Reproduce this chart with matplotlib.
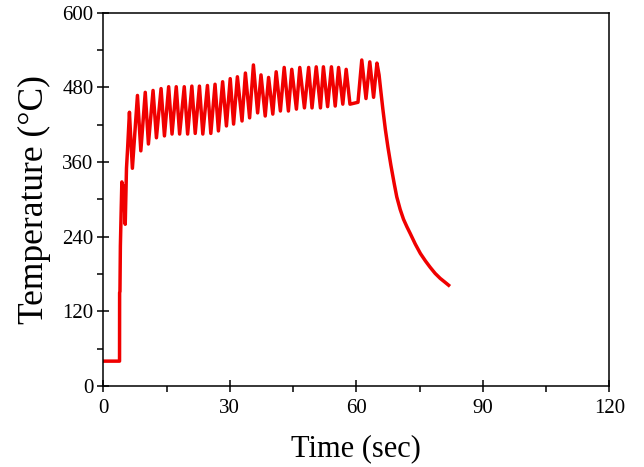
import matplotlib
matplotlib.use("Agg")
import matplotlib.pyplot as plt
from matplotlib.ticker import MultipleLocator

# temperature trace (time in s, temperature in degC)
time_s = [0.0, 3.85, 3.87, 3.95, 4.05, 4.25, 4.4, 4.6, 4.8, 5.2, 5.5, 5.75,
          6.2, 6.5, 6.9,
          8.1, 8.9, 9.95, 10.7, 11.8, 12.6, 13.7, 14.5, 15.5, 16.3, 17.3, 18.1,
          19.2, 20.0, 21.0, 21.8, 22.8, 23.6, 24.7, 25.5, 26.5, 27.3, 28.3, 29.2,
          30.1, 30.9, 31.8, 32.9, 33.7, 34.7, 35.6, 36.6, 37.4, 38.4, 39.2, 40.2,
          41.0, 42.0, 42.9, 43.9, 44.7, 45.8, 46.6, 47.7, 48.7, 49.5, 50.5, 51.5,
          52.2, 53.2, 54.1, 55.0, 55.8, 56.8, 57.6,
          58.5, 60.4, 61.3, 62.3, 63.2, 64.1, 64.9, 65.4,
          65.8, 66.3, 66.9, 67.5, 68.2, 69.0, 69.6, 70.4, 71.2, 72.0, 72.8,
          74.0, 75.2, 76.4, 77.5, 78.7, 79.9, 81.0, 81.9]
temp_c = [40, 40, 150, 152, 225, 285, 328, 295, 322, 260, 350, 380,
          440, 400, 350,
          467, 378, 472, 389, 475, 399, 478, 402, 481, 405, 481, 405,
          481, 405, 482, 406, 482, 405, 483, 406, 485, 410, 489, 418,
          494, 421, 497, 426, 503, 431, 516, 439, 500, 434, 496, 437,
          505, 442, 512, 442, 509, 445, 512, 447, 512, 447, 513, 447,
          513, 449, 513, 450, 512, 453, 509,
          453, 456, 524, 462, 521, 464, 519, 500,
          475, 445, 412, 384, 355, 325, 304, 284, 268, 256, 245,
          228, 213, 201, 191, 181, 173, 167, 162]

x_ticks = [0, 30, 60, 90, 120]
y_ticks = [0, 120, 240, 360, 480, 600]

plt.rcParams['font.family'] = ['Liberation Serif', 'DejaVu Serif']

fig = plt.figure(figsize=(6.44, 4.67), dpi=100)
ax = fig.add_axes([0.1604, 0.1734, 0.7857, 0.7994])

ax.plot(time_s, temp_c, color='#f00000', linewidth=2.5)

ax.set_xlim(0, 120)
ax.set_ylim(0, 600)
ax.set_xticks(x_ticks)
ax.set_yticks(y_ticks)
ax.xaxis.set_minor_locator(MultipleLocator(15))
ax.yaxis.set_minor_locator(MultipleLocator(60))
ax.tick_params(which='major', direction='inout', length=8, width=1.1,
               labelsize=15, pad=3)
ax.tick_params(axis='x', which='major', pad=5)
ax.tick_params(which='minor', direction='out', length=4, width=1.1)
ax.tick_params(top=False, right=False, which='both')
for sp in ax.spines.values():
    sp.set_linewidth(1.1)

ax.set_xlabel("Time (sec)", fontsize=22, labelpad=12)
ax.set_ylabel("Temperature (\u00b0C)", fontsize=25.5, labelpad=8)

fig.savefig("out.png", dpi=100)
